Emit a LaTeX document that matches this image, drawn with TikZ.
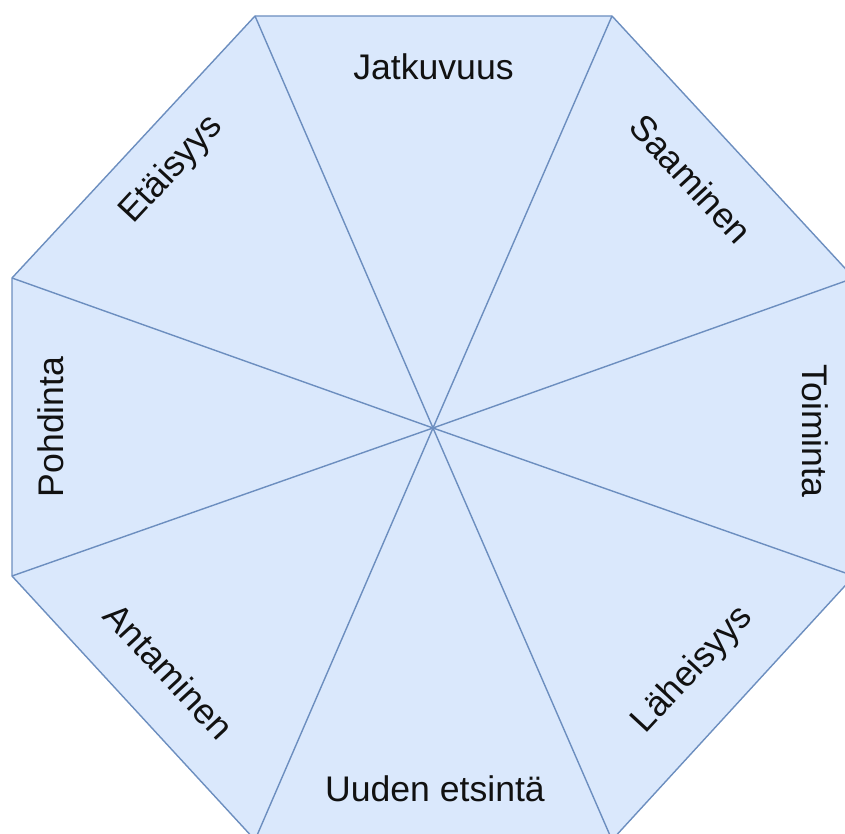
\documentclass[tikz,border=0pt]{standalone}
\usepackage{fontspec}
\setmainfont{Liberation Sans}
\definecolor{octfill}{HTML}{DAE8FC}
\definecolor{octline}{HTML}{6C8EBF}
\definecolor{txt}{HTML}{111111}
\begin{document}
\begin{tikzpicture}[x=1pt,y=-1pt,
  edge/.style={draw=octline,line width=1.4pt,line join=round},
  lbl/.style={text=txt,inner sep=0pt,font=\fontsize{35.6}{42}\selectfont}]
\useasboundingbox (0,0) rectangle (845,834);
\clip (0,0) rectangle (845,834);
\coordinate (c) at (433,428);
\coordinate (v1) at (255,16);
\coordinate (v2) at (612,16);
\coordinate (v3) at (854,278);
\coordinate (v4) at (854,576);
\coordinate (v5) at (612,840);
\coordinate (v6) at (255,840);
\coordinate (v7) at (12,576);
\coordinate (v8) at (12,278);
\fill[octfill] (v1) -- (v2) -- (v3) -- (v4) -- (v5) -- (v6) -- (v7) -- (v8) -- cycle;
\draw[edge] (v1) -- (v2) -- (v3) -- (v4) -- (v5) -- (v6) -- (v7) -- (v8) -- cycle;
\foreach \v in {v1,v2,v3,v4,v5,v6,v7,v8} \draw[edge] (c) -- (\v);
\node[lbl] (jat) at (433.5,67) {Jatkuvuus};
\node[lbl,rotate=-47.2] (saa) at (691,179) {Saaminen};
\node[lbl,rotate=-90] (toi) at (815,431) {Toiminta};
\node[lbl,rotate=47.2] (lah) at (693,670) {Läheisyys};
\node[lbl] (uud) at (435,789) {Uuden etsintä};
\node[lbl,rotate=-47.2] (ant) at (169,671) {Antaminen};
\node[lbl,rotate=90] (poh) at (51,427) {Pohdinta};
\node[lbl,rotate=47.2] (eta) at (172,170) {Etäisyys};
\end{tikzpicture}
\end{document}
